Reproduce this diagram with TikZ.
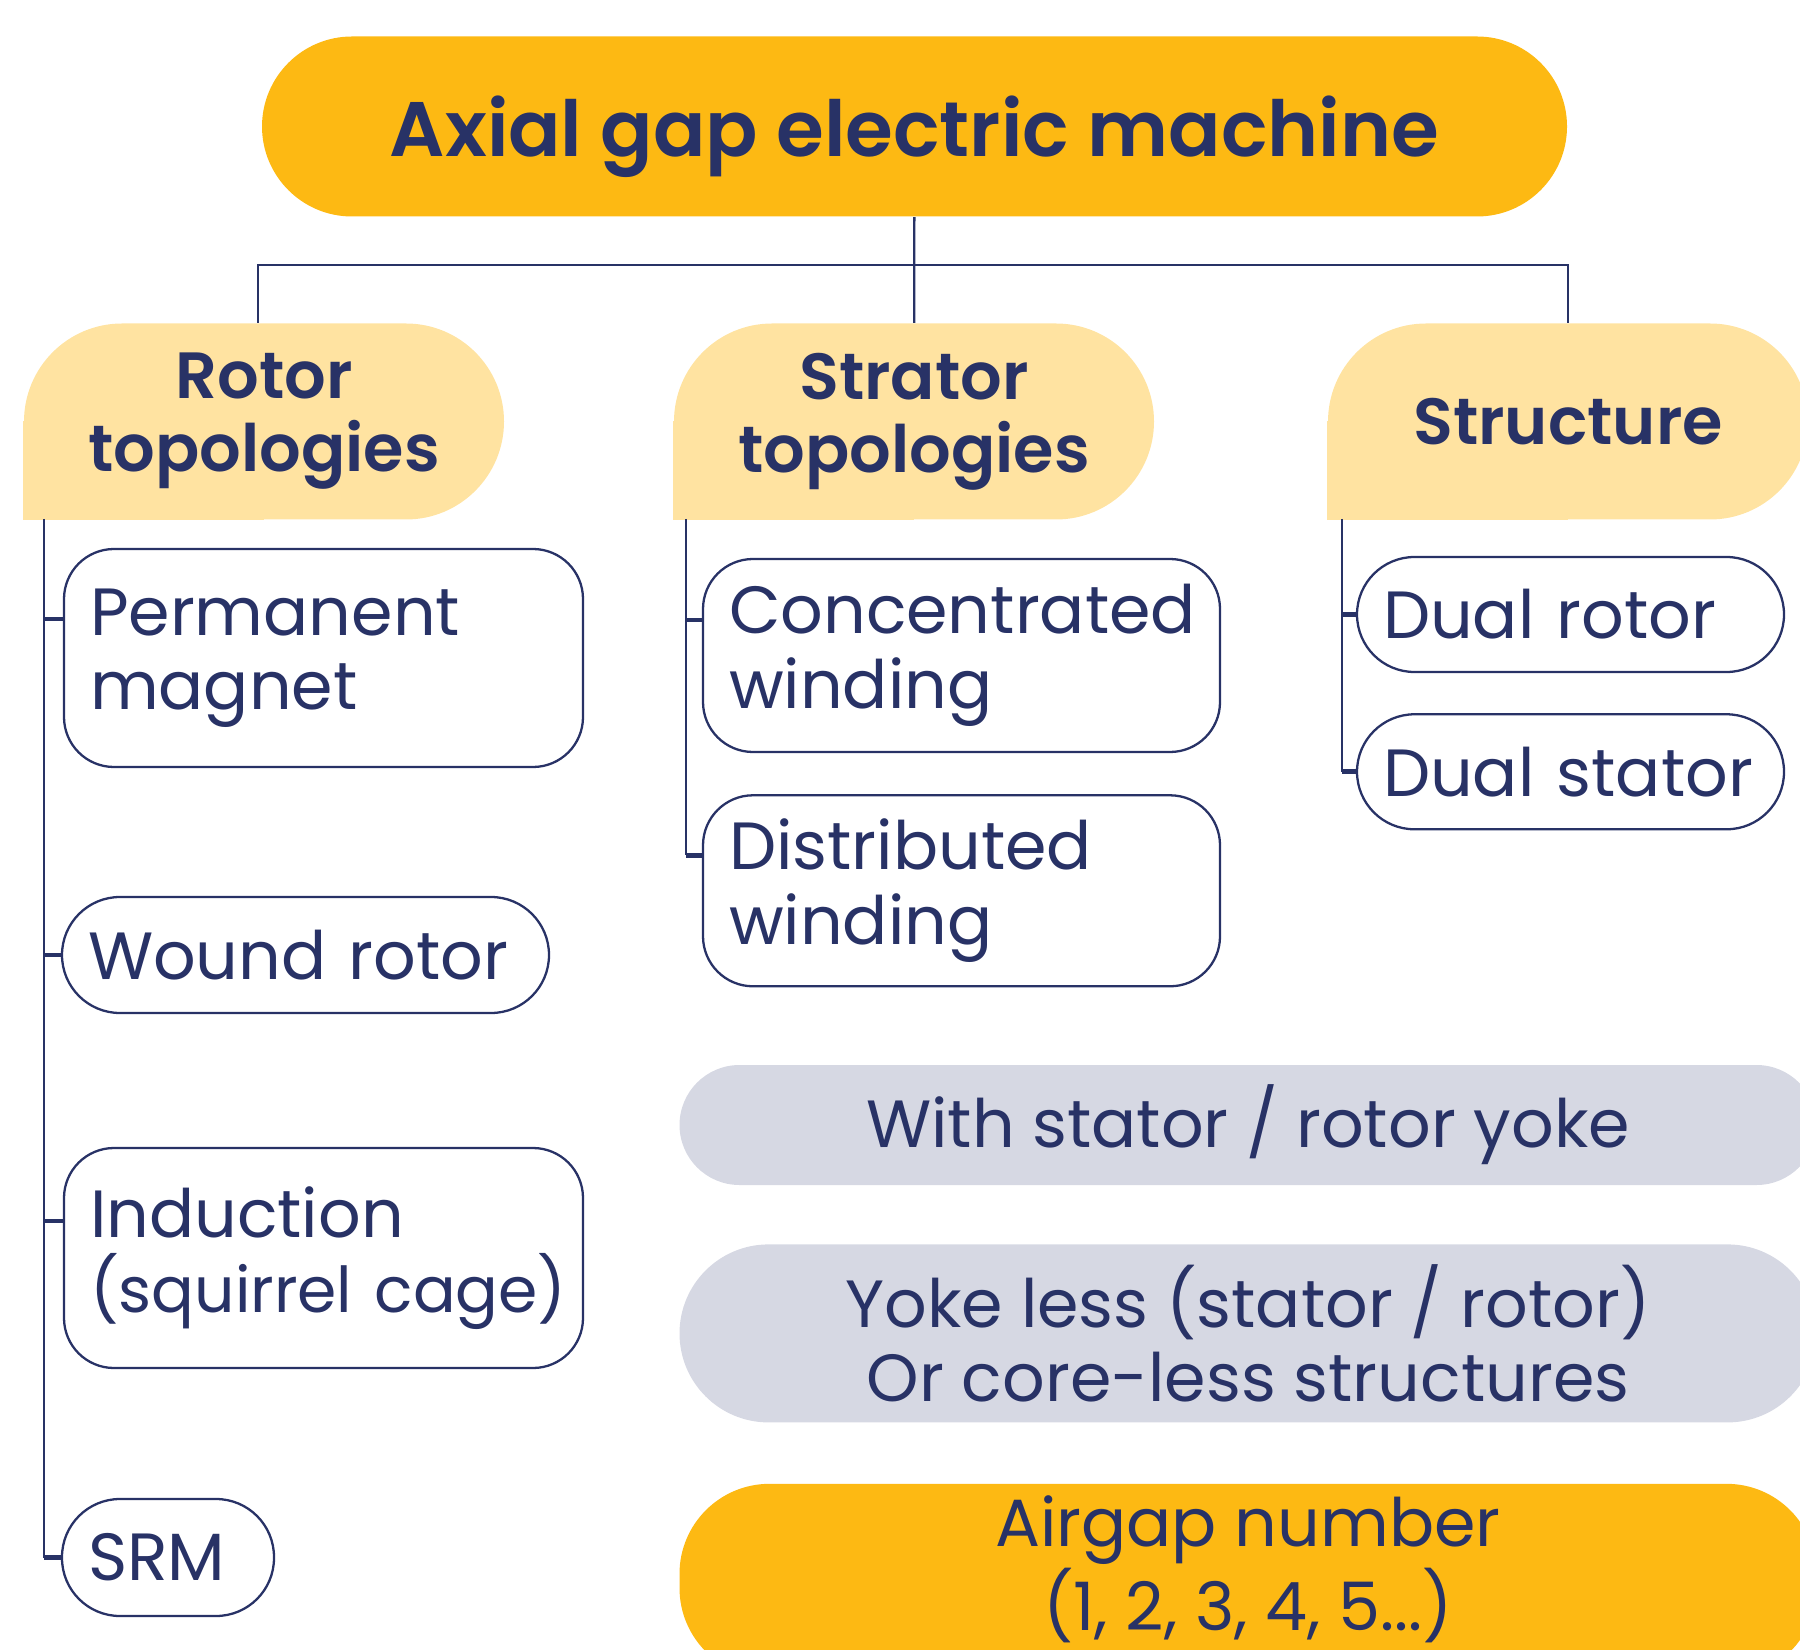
\documentclass[tikz,border=0pt]{standalone}
\usepackage{fontspec}
\setmainfont{Poppins}
\newfontfamily\semibold{Poppins SemiBold}
\usetikzlibrary{positioning,backgrounds}
\definecolor{cNavy}{RGB}{40,50,102}
\definecolor{cTitle}{RGB}{253,185,19}
\definecolor{cHead}{RGB}{255,227,161}
\definecolor{cGrey}{RGB}{214,216,227}
\newcommand{\bodyfont}{\fontsize{19}{21.2}\selectfont}
\newcommand{\tight}[1]{\mbox{\fontsize{18}{21.2}\selectfont #1}}
\tikzset{
  root/.style={fill=cTitle, rounded corners=9mm, minimum width=130.5mm, text depth=0pt,
               minimum height=18mm, font=\fontsize{22}{26}\selectfont\semibold, text=cNavy},
  head/.style={fill=cHead, rounded corners=9.8mm, minimum width=48mm, minimum height=19.6mm,
               align=center, font=\fontsize{18.6}{20.8}\selectfont\semibold, text=cNavy},
  leaf/.style={draw=cNavy, line width=0.65pt, fill=white, rounded corners=5mm,
               align=left, inner xsep=2.6mm, font=\bodyfont, text=cNavy},
  band/.style={minimum width=113.7mm, align=center, font=\bodyfont, text=cNavy},
  link/.style={draw=cNavy, line width=0.65pt},
  stub/.style={draw=cNavy, line width=1.4pt},
}

\begin{document}
\begin{tikzpicture}[x=1mm, y=-1mm]
  \useasboundingbox (0,0) rectangle (180,165);
  \clip (0,0) rectangle (180,165);

  % ---- root and the three headers ----
  \node[root] (axial) at (91.45,12.65) {Axial gap electric machine};
  \node[head] (rotH) at (26.4,42.15) {Rotor\\topologies};
  \node[head] (strH) at (91.4,42.15) {Strator\\topologies};
  \node[head] (strucH) at (156.8,42.15) {Structure};
  \begin{scope}[on background layer]
    \foreach \h in {rotH,strH,strucH}
      \fill[cHead] (\h.south west) rectangle (\h.center);
  \end{scope}
  \coordinate (split) at (91.4,26.5);
  \draw[link] (axial) -- (strH);
  \draw[link] ([xshift=-0.6mm]rotH.north) |- (split) -| (strucH.north);

  % ---- rotor topologies ----
  \node[leaf, text width=46.7mm, minimum height=21.8mm] (pm) at (32.35,65.8) {Permanent\\magnet};
  \node[leaf, text width=43.5mm, minimum height=11.6mm, rounded corners=5.8mm] (wound) at (30.55,95.5) {Wound rotor};
  \node[leaf, text width=46.7mm, minimum height=22mm] (ind) at (32.35,125.8) {Induction\\\tight{(squirrel cage)}};
  \node[leaf, text width=16mm, minimum height=11.7mm, rounded corners=5.8mm] (srm) at (16.8,155.75) {SRM};
  \coordinate (rt) at (4.4,51.9);
  \draw[link] (rt) -- (rt |- srm.west);
  \foreach \n/\dy in {pm/3.9, wound/0, ind/3.7, srm/0} {
    \path ([yshift=\dy mm]\n.west) coordinate (p);
    \draw[stub] (rt |- p) -- (p);
  }

  % ---- strator topologies ----
  \node[leaf, text width=46.5mm, minimum height=19.3mm] (conc) at (96.15,65.55) {Concentrated\\winding};
  \node[leaf, text width=46.5mm, minimum height=19.1mm, below=4.1mm of conc] (dist) {Distributed\\winding};
  \coordinate (st) at (68.6,51.9);
  \path ([yshift=3.55mm]dist.west) coordinate (stEnd);
  \draw[link] (st) -- (st |- stEnd);
  \foreach \n in {conc,dist} {
    \path ([yshift=3.55mm]\n.west) coordinate (p);
    \draw[stub] (st |- p) -- (p);
  }

  % ---- structure ----
  \node[leaf, text width=37.5mm, minimum height=11.5mm, rounded corners=5.75mm] (drot) at (157.05,61.45) {Dual rotor};
  \node[leaf, text width=37.5mm, minimum height=11.5mm, rounded corners=5.75mm, below=4mm of drot] (dstat) {Dual stator};
  \coordinate (sc) at (134.2,51.9);
  \draw[link] (sc) -- (sc |- dstat.west);
  \foreach \n in {drot,dstat}
    \draw[stub] (sc |- \n.west) -- (\n.west);

  % ---- yoke / airgap bands ----
  \node[band, fill=cGrey, minimum height=12mm, rounded corners=6mm] (yoke) at (124.8,112.5) {With stator / rotor yoke};
  \node[band, fill=cGrey, minimum height=17.8mm, rounded corners=8.9mm, below=5.8mm of yoke] (yless) {Yoke less (stator / rotor)\\Or core-less structures};
  \node[band, fill=cTitle, minimum height=18mm, rounded corners=9mm, text depth=3.6mm, below=6mm of yless] (gaps) {Airgap number\\(1, 2, 3, 4, 5...)};
\end{tikzpicture}
\end{document}
